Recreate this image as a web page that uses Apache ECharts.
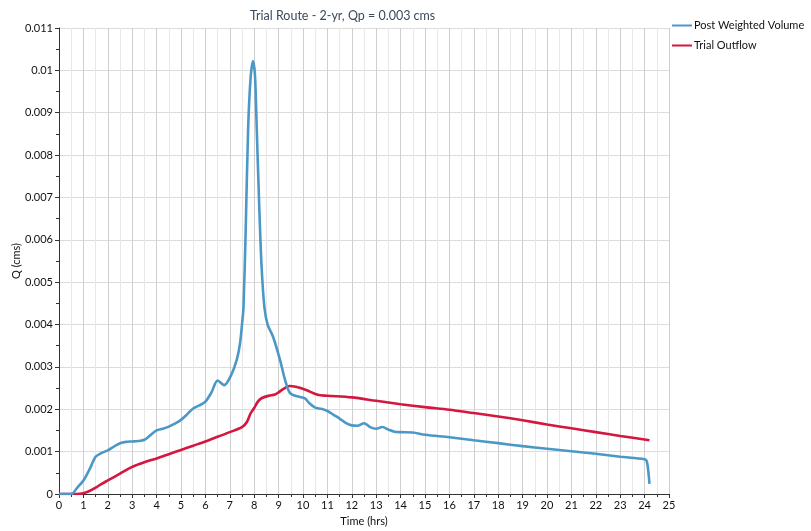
<!DOCTYPE html>
<html><head><meta charset="utf-8">
<script src="https://cdn.jsdelivr.net/npm/echarts@6/dist/echarts.min.js"></script>
<style>html,body{margin:0;padding:0;background:#fff}#c{width:811px;height:531px}</style>
</head><body><div id="c"></div>
<script>
var titleText = 'Trial Route - 2-yr, Qp = 0.003 cms';
var seriesNames = ['Post Weighted Volume', 'Trial Outflow'];
var xTicks = [0,1,2,3,4,5,6,7,8,9,10,11,12,13,14,15,16,17,18,19,20,21,22,23,24,25];
var yTicks = [0,0.001,0.002,0.003,0.004,0.005,0.006,0.007,0.008,0.009,0.01,0.011];

var postTime = [0,0.5,0.75,1.0,1.25,1.5,1.75,2.0,2.25,2.5,2.75,3.0,3.25,3.5,3.75,4.0,4.25,4.5,4.75,5.0,5.25,5.5,5.75,6.0,6.25,6.5,6.77,7.05,7.28,7.42,7.5,7.56,7.65,7.75,7.85,7.95,8.03,8.1,8.2,8.3,8.42,8.55,8.78,9.06,9.27,9.47,9.8,10.08,10.25,10.5,10.75,11.0,11.25,11.5,11.75,12.0,12.25,12.5,12.75,13.0,13.25,13.5,13.75,14.0,14.5,15,16,17,18,19,20,21,22,23,24,24.1,24.2];
var postQ = [0,0,0.00015,0.00032,0.00058,0.00088,0.00097,0.00103,0.00112,0.0012,0.00123,0.00124,0.00125,0.00128,0.00139,0.0015,0.00154,0.00159,0.00166,0.00175,0.00188,0.00202,0.00209,0.00218,0.0024,0.00268,0.00257,0.0028,0.00316,0.00356,0.004,0.0044,0.0062,0.0086,0.0098,0.01022,0.0099,0.0087,0.0069,0.0054,0.0044,0.004,0.0037,0.00316,0.00268,0.00238,0.0023,0.00226,0.00215,0.00204,0.00201,0.00196,0.00187,0.00178,0.00168,0.00162,0.00161,0.00167,0.00158,0.00154,0.00158,0.00152,0.00147,0.00146,0.00145,0.0014,0.00134,0.00127,0.0012,0.00113,0.00107,0.00101,0.00095,0.00088,0.00082,0.00075,0.00024];

var outTime = [0,0.75,1.0,1.25,1.5,1.75,2.0,2.5,3.0,3.5,4.0,4.5,5.0,5.5,6.0,6.5,7.0,7.5,7.7,7.85,8.0,8.15,8.3,8.6,8.85,9.0,9.2,9.45,9.7,10.1,10.6,11,12,13,14,15,16,17,18,19,20,21,22,23,24.2];
var outQ = [0,0,0.00002,0.00007,0.00015,0.00024,0.00032,0.00048,0.00064,0.00075,0.00084,0.00094,0.00104,0.00114,0.00124,0.00135,0.00146,0.00158,0.0017,0.0019,0.00203,0.00218,0.00226,0.00232,0.00235,0.0024,0.00248,0.00255,0.00253,0.00246,0.00234,0.00232,0.00228,0.0022,0.00212,0.00205,0.00199,0.00191,0.00183,0.00174,0.00164,0.00155,0.00146,0.00137,0.00127];

function pairs(xs, ys){ return xs.map(function(x,i){ return [x, ys[i]]; }); }

var font = 'Lato';
var chart = echarts.init(document.getElementById('c'));
chart.setOption({
  animation: false,
  title: { text: titleText, left: 245, top: 4, textStyle: { fontFamily: font, fontSize: 12.5, fontWeight: 'normal', color: '#3a4a5c' } },
  legend: {
    orient: 'vertical', left: 672, top: 20, itemGap: 9, itemWidth: 20, itemHeight: 2, icon: 'rect',
    padding: 0,
    textStyle: { fontFamily: font, fontSize: 11, color: '#111', padding: [0,0,0,-3] },
    data: seriesNames
  },
  grid: { left: 59, right: 142, top: 28, bottom: 37, containLabel: false, outerBoundsMode: 'none' },
  xAxis: {
    type: 'value', min: xTicks[0], max: xTicks[xTicks.length-1], interval: 1,
    name: 'Time (hrs)', nameLocation: 'middle', nameGap: 22,
    nameTextStyle: { fontFamily: font, fontSize: 11, color: '#111' },
    axisLine: { show: true, onZero: false, lineStyle: { color: '#333', width: 1 } },
    axisTick: { show: true, length: 4, lineStyle: { color: '#333' } },
    minorTick: { show: true, splitNumber: 2, length: 3, lineStyle: { color: '#333' } },
    axisLabel: { fontFamily: font, fontSize: 11, color: '#111', margin: 6 },
    splitLine: { show: true, lineStyle: { color: '#cfcfcf', width: 1 } },
    minorSplitLine: { show: true, lineStyle: { color: '#e8e8e8', width: 1 } }
  },
  yAxis: {
    type: 'value', min: yTicks[0], max: yTicks[yTicks.length-1], interval: 0.001,
    name: 'Q (cms)', nameLocation: 'middle', nameGap: 37, nameRotate: 90, nameMoveOverlap: false,
    nameTextStyle: { fontFamily: font, fontSize: 11, color: '#111' },
    axisLine: { show: true, lineStyle: { color: '#333', width: 1 } },
    axisTick: { show: true, length: 4, lineStyle: { color: '#333' } },
    minorTick: { show: true, splitNumber: 2, length: 3, lineStyle: { color: '#333' } },
    axisLabel: { fontFamily: font, fontSize: 11, color: '#111', margin: 6,
      formatter: function(v){ return String(+v.toFixed(4)); } },
    splitLine: { show: true, lineStyle: { color: '#dcdcdc', width: 1 } }
  },
  series: [
    { name: seriesNames[0], type: 'line', data: pairs(postTime, postQ), smooth: 0.3, showSymbol: false,
      lineStyle: { color: '#4b98c7', width: 2.6 }, itemStyle: { color: '#4b98c7' }, z: 3 },
    { name: seriesNames[1], type: 'line', data: pairs(outTime, outQ), smooth: 0.3, showSymbol: false,
      lineStyle: { color: '#d4173f', width: 2.6 }, itemStyle: { color: '#d4173f' }, z: 2 }
  ]
});
</script></body></html>
